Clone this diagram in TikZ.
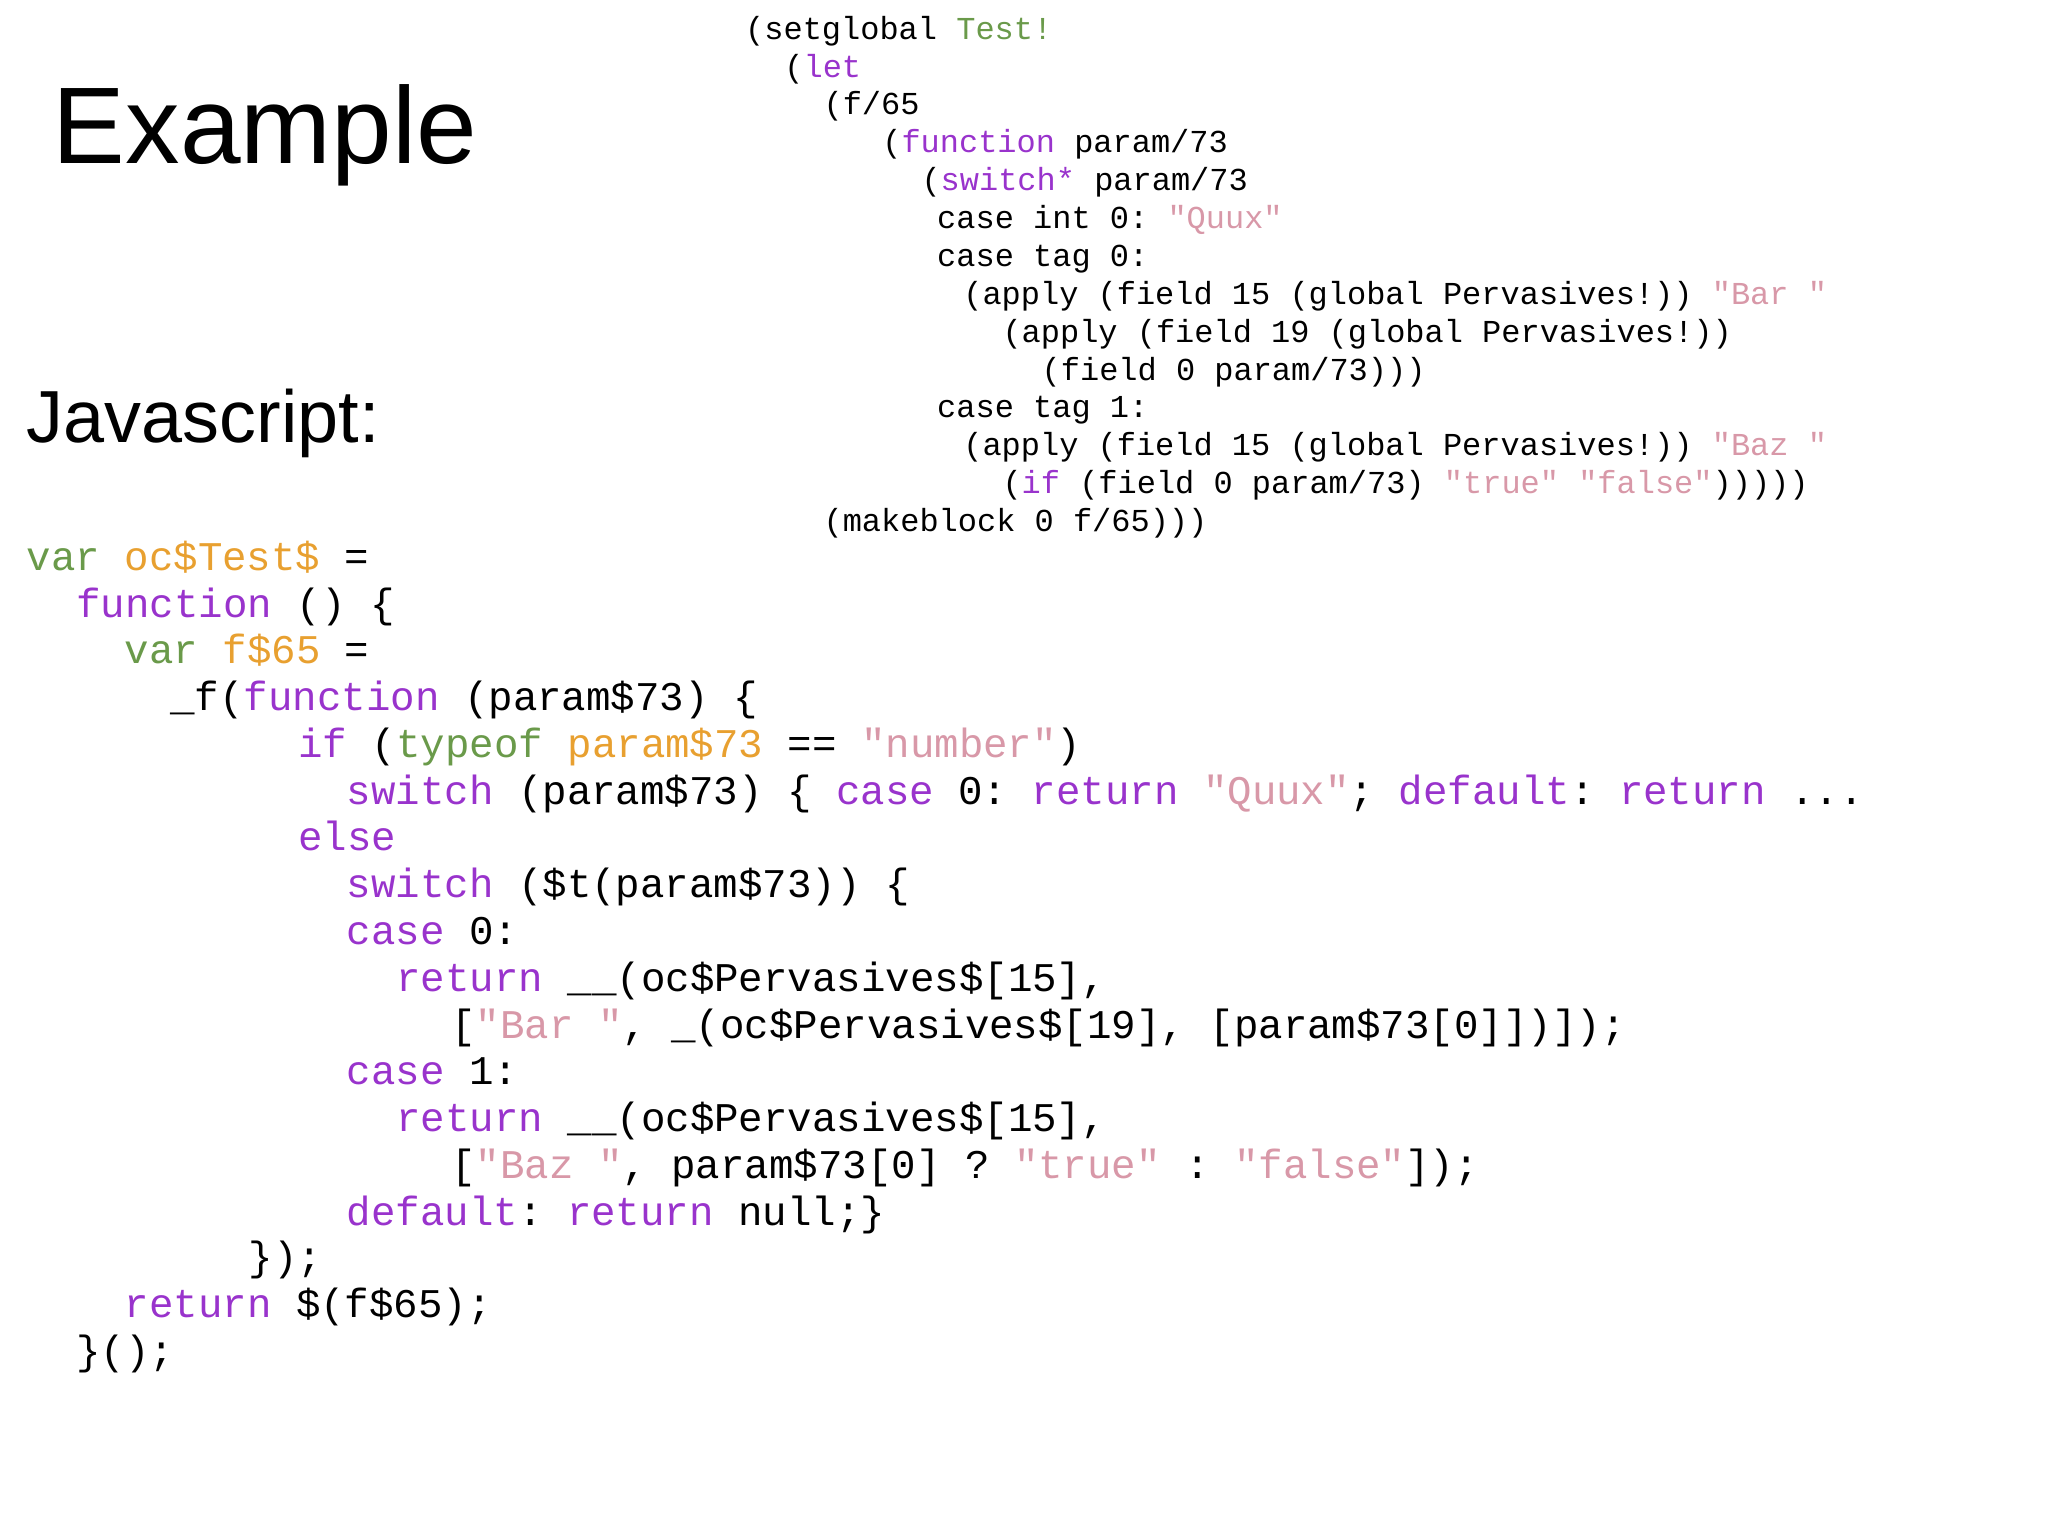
\documentclass[tikz,border=0pt]{standalone}
\usepackage{fontspec}
\setmainfont{Liberation Sans}
\setmonofont{Liberation Mono}
\usetikzlibrary{positioning}
\definecolor{kwpurple}{RGB}{153,51,204}
\definecolor{vargreen}{RGB}{106,154,74}
\definecolor{idorange}{RGB}{232,160,48}
\definecolor{strpink}{RGB}{216,152,168}
\newcommand{\kwd}[1]{\textcolor{kwpurple}{#1}}
\newcommand{\grn}[1]{\textcolor{vargreen}{#1}}
\newcommand{\idf}[1]{\textcolor{idorange}{#1}}
\newcommand{\str}[1]{\textcolor{strpink}{#1}}

\begin{document}
\begin{tikzpicture}[x=0.01306cm,y=-0.01306cm,
  title/.style={anchor=base west,inner sep=0pt},
  lisp/.style={anchor=base west,inner sep=0pt,font=\fontsize{9.1}{10}\ttfamily},
  jsline/.style={anchor=base west,inner sep=0pt,font=\fontsize{11.6}{13}\ttfamily}]
\useasboundingbox (0,0) rectangle (1568,1176);
%% headings
\node (example) at (40,125) [title,font=\fontsize{31}{36}\selectfont] {Example};
\node (jslabel) at (20,339) [title,font=\fontsize{21}{25}\selectfont] {Javascript:};
%% lambda code
\node (s1) at (570,30) [lisp] {(setglobal \grn{Test!}};
\node (s2) at (600,59) [lisp] {(\kwd{let}};
\node (s3) at (630,88) [lisp] {(f/65};
\node (s4) at (675,117) [lisp] {(\kwd{function} param/73};
\node (s5) at (705,146) [lisp] {(\kwd{switch*} param/73};
\node (s6) at (717,175) [lisp] {case int 0: \str{"Quux"}};
\node (s7) at (717,204) [lisp] {case tag 0:};
\node (s8) at (737,233) [lisp] {(apply (field 15 (global Pervasives!)) \str{"Bar "}};
\node (s9) at (767,262) [lisp] {(apply (field 19 (global Pervasives!))};
\node (s10) at (797,291) [lisp] {(field 0 param/73)))};
\node (s11) at (717,320) [lisp] {case tag 1:};
\node (s12) at (737,349) [lisp] {(apply (field 15 (global Pervasives!)) \str{"Baz "}};
\node (s13) at (767,378) [lisp] {(\kwd{if} (field 0 param/73) \str{"true"} \str{"false"})))))};
\node (s14) at (630,407) [lisp] {(makeblock 0 f/65)))};
%% javascript code
\node (j1) at (20,437) [jsline] {\grn{var} \idf{oc\$Test\$} =};
\node (j2) at (58,473) [jsline] {\kwd{function} () \{};
\node (j3) at (95,508) [jsline] {\grn{var} \idf{f\$65} =};
\node (j4) at (130,544) [jsline] {\_f(\kwd{function} (param\$73) \{};
\node (j5) at (228,580) [jsline] {\kwd{if} (\grn{typeof} \idf{param\$73} == \str{"number"})};
\node (j6) at (265,616) [jsline] {\kwd{switch} (param\$73) \{ \kwd{case} 0: \kwd{return} \str{"Quux"}; \kwd{default}: \kwd{return} ...};
\node (j7) at (228,651) [jsline] {\kwd{else}};
\node (j8) at (265,687) [jsline] {\kwd{switch} (\$t(param\$73)) \{};
\node (j9) at (265,723) [jsline] {\kwd{case} 0:};
\node (j10) at (303,759) [jsline] {\kwd{return} \_\_(oc\$Pervasives\$[15],};
\node (j11) at (345,795) [jsline] {[\str{"Bar "}, \_(oc\$Pervasives\$[19], [param\$73[0]])]);};
\node (j12) at (265,830) [jsline] {\kwd{case} 1:};
\node (j13) at (303,866) [jsline] {\kwd{return} \_\_(oc\$Pervasives\$[15],};
\node (j14) at (345,902) [jsline] {[\str{"Baz "}, param\$73[0] ? \str{"true"} : \str{"false"}]);};
\node (j15) at (265,938) [jsline] {\kwd{default}: \kwd{return} null;\}};
\node (j16) at (190,973) [jsline] {\});};
\node (j17) at (95,1009) [jsline] {\kwd{return} \$(f\$65);};
\node (j18) at (58,1045) [jsline] {\}();};
\end{tikzpicture}
\end{document}
